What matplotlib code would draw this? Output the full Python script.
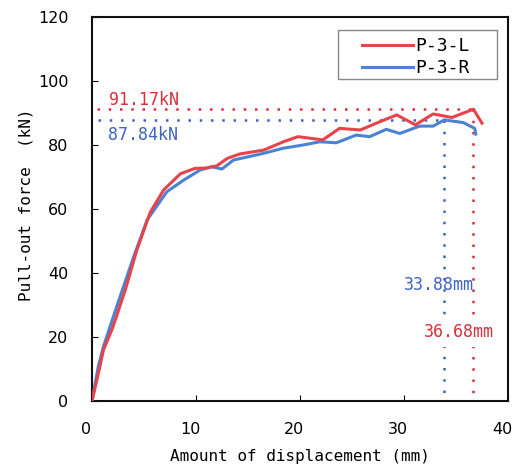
import matplotlib.pyplot as plt
import matplotlib.transforms as mtransforms
from matplotlib.patches import Rectangle

# P-3-L (red) curve
disp_L = [0, 0.5, 1.1, 2.0, 3.2, 4.3, 5.6, 6.9, 8.5, 9.9, 11.0, 12.0, 13.0, 14.2,
          16.5, 18.4, 19.8, 22.2, 23.8, 25.8, 27.7, 29.3, 31.1, 32.8, 34.6, 36.68, 37.5]
force_L = [0, 7, 15.9, 23, 34.7, 47, 59, 66, 71, 72.7, 72.8, 73.5, 75.8, 77.2,
           78.4, 81, 82.6, 81.6, 85.2, 84.7, 87.3, 89.4, 86.3, 89.7, 88.6, 91.17, 86.8]

# P-3-R (blue) curve
disp_R = [0, 0.6, 1.1, 2.05, 2.7, 4.0, 5.3, 7.2, 8.8, 10.4, 11.5, 12.5, 13.6, 16.5,
          18.4, 20.3, 21.9, 23.5, 25.4, 26.7, 28.3, 29.6, 31.5, 32.8, 33.88, 35.7, 36.8, 36.9]
force_R = [0, 10.7, 17, 26.3, 32.6, 45, 56.6, 65.4, 69, 72.2, 73.2, 72.5, 75.3, 77.4,
           79, 80, 81, 80.7, 83.1, 82.6, 84.9, 83.6, 85.9, 85.9, 87.84, 87, 85.2, 83.4]

peak_L = (36.68, 91.17)
peak_R = (33.88, 87.84)

red = '#e8434b'
blue = '#4b82d2'
red_dot = '#d8303c'
blue_dot = '#3f63c2'

fig = plt.figure(figsize=(5.15, 4.69), dpi=100)
ax = fig.add_axes([92 / 515, 1 - 401 / 469, 416 / 515, 384 / 469])

mono = 'DejaVu Sans Mono'
dots = (0, (1, 3.5))

# peak guide lines
ax.plot([0.5, peak_L[0]], [peak_L[1], peak_L[1]], color=red_dot, lw=1.8, ls=dots, zorder=2)
ax.plot([0.6, peak_R[0]], [peak_R[1], peak_R[1]], color=blue_dot, lw=1.8, ls=dots, zorder=2)
ax.plot([peak_L[0], peak_L[0]], [peak_L[1], 2.5], color=red_dot, lw=1.8, ls=dots, zorder=2)
ax.plot([peak_R[0], peak_R[0]], [peak_R[1], 2.5], color=blue_dot, lw=1.8, ls=dots, zorder=2)

ax.plot(disp_L, force_L, color=red, lw=2.2, label='P-3-L', zorder=4)
ax.plot(disp_R, force_R, color=blue, lw=2.2, label='P-3-R', zorder=3)

ax.text(1.6, 94.2, '%.2fkN' % peak_L[1], color=red_dot, fontsize=12, family=mono,
        va='center', ha='left')
ax.text(1.5, 83.2, '%.2fkN' % peak_R[1], color=blue_dot, fontsize=12, family=mono,
        va='center', ha='left')
ax.text(36.7, 36.2, '%.2fmm' % peak_R[0], color=blue_dot, fontsize=12, family=mono,
        va='center', ha='right', zorder=5)
ax.text(35.3, 21.5, '%.2fmm' % peak_L[0], color=red_dot, fontsize=12, family=mono,
        va='center', ha='center', zorder=5,
        bbox=dict(facecolor='white', edgecolor='none', pad=4))

ax.set_xlim(0, 40)
ax.set_ylim(0, 120)
ax.set_xticks([0, 10, 20, 30, 40])
ax.set_yticks([0, 20, 40, 60, 80, 100, 120])
ax.tick_params(direction='in', length=4, width=0.8, labelsize=11.5)
ax.tick_params(axis='x', pad=15)
ax.tick_params(axis='y', pad=17)
shift = mtransforms.ScaledTranslation(-6 / 100, 0, fig.dpi_scale_trans)
for lab in ax.get_xticklabels():
    lab.set_transform(lab.get_transform() + shift)
for s in ax.spines.values():
    s.set_linewidth(1.5)
    s.set_color('#111111')

ax.set_xlabel('Amount of displacement (mm)', fontsize=11.5, family=mono)
ax.set_ylabel('Pull-out force  (kN)', fontsize=11.5, family=mono)
ax.xaxis.set_label_coords(0.5, -0.125)
ax.yaxis.set_label_coords(-0.14, 0.51)

# legend box
x0, x1 = (338 - 92) / 416, (497 - 92) / 416
y0, y1 = (401 - 79) / 384, (401 - 30) / 384
ax.add_patch(Rectangle((x0, y0), x1 - x0, y1 - y0, transform=ax.transAxes,
                       facecolor='white', edgecolor='#888888', lw=1.0, zorder=6))
leg = ax.legend(loc='upper left', bbox_to_anchor=(x0 + 0.045, y1 - 0.005), borderaxespad=0,
                frameon=False, prop={'family': mono, 'size': 13}, handlelength=2.8,
                handletextpad=0.15, labelspacing=0.2, borderpad=0.3)
leg.set_zorder(7)

fig.savefig('out.png', dpi=100)
